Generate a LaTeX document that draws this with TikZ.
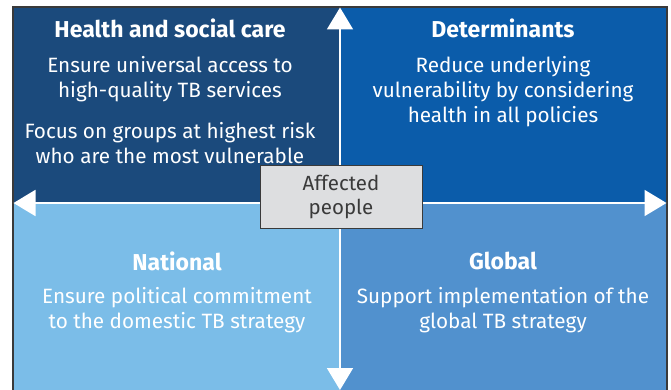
\documentclass[tikz,border=0pt]{standalone}
\usepackage{fontspec}
\setmainfont{Fira Sans}
\usetikzlibrary{arrows.meta}
\definecolor{tlc}{HTML}{1B4A7C}
\definecolor{trc}{HTML}{0B5CAA}
\definecolor{blc}{HTML}{7BBDE8}
\definecolor{brc}{HTML}{5191CE}
\definecolor{boxc}{HTML}{DDDEE0}
\definecolor{edgec}{HTML}{3A3A3A}
\begin{document}
\begin{tikzpicture}[x=1pt,y=-1pt,
  head/.style={text=white,font=\fontsize{23}{27}\selectfont\bfseries,anchor=center},
  body/.style={text=white,font=\fontsize{20.7}{25}\selectfont,align=center,anchor=center},
  arr/.style={draw=white,line width=1.8pt,{Triangle[width=26pt,length=22pt]}-{Triangle[width=26pt,length=22pt]}}
]
\useasboundingbox (0,0) rectangle (671,390);
\fill[white] (0,0) rectangle (671,390);
\fill[tlc] (13,7) rectangle (340,203);
\fill[trc] (340,7) rectangle (667,203);
\fill[blc] (13,203) rectangle (340,392);
\fill[brc] (340,203) rectangle (667,392);
\draw[edgec,line width=1.2pt] (13,395) -- (13,7) -- (667,7) -- (667,395);
\coordinate (top) at (340,7.5);
\coordinate (bot) at (340,390);
\coordinate (lft) at (13.5,203);
\coordinate (rgt) at (666.5,203);
\draw[arr] (bot) -- (top);
\draw[arr] (lft) -- (rgt);
\node[head] (h1) at (170,28) {Health and social care};
\node[body] (b1) at (170,79.5) {Ensure universal access to\\high-quality TB services};
\node[body] (b2) at (170,143.5) {Focus on groups at highest risk\\who are the most vulnerable};
\node[head] (h2) at (503,28) {Determinants};
\node[body] (b3) at (503,91.5) {Reduce underlying\\vulnerability by considering\\health in all policies};
\node[head] (h3) at (177,261) {National};
\node[body] (b4) at (177,310.5) {Ensure political commitment\\to the domestic TB strategy};
\node[head] (h4) at (503,261) {Global};
\node[body] (b5) at (503,310.5) {Support implementation of the\\global TB strategy};
\node[draw=edgec,fill=boxc,line width=1pt,minimum width=162pt,minimum height=62pt,
  text=edgec,align=center,font=\fontsize{20.5}{24}\selectfont] (ap) at (341,197) {Affected\\people};
\end{tikzpicture}
\end{document}
